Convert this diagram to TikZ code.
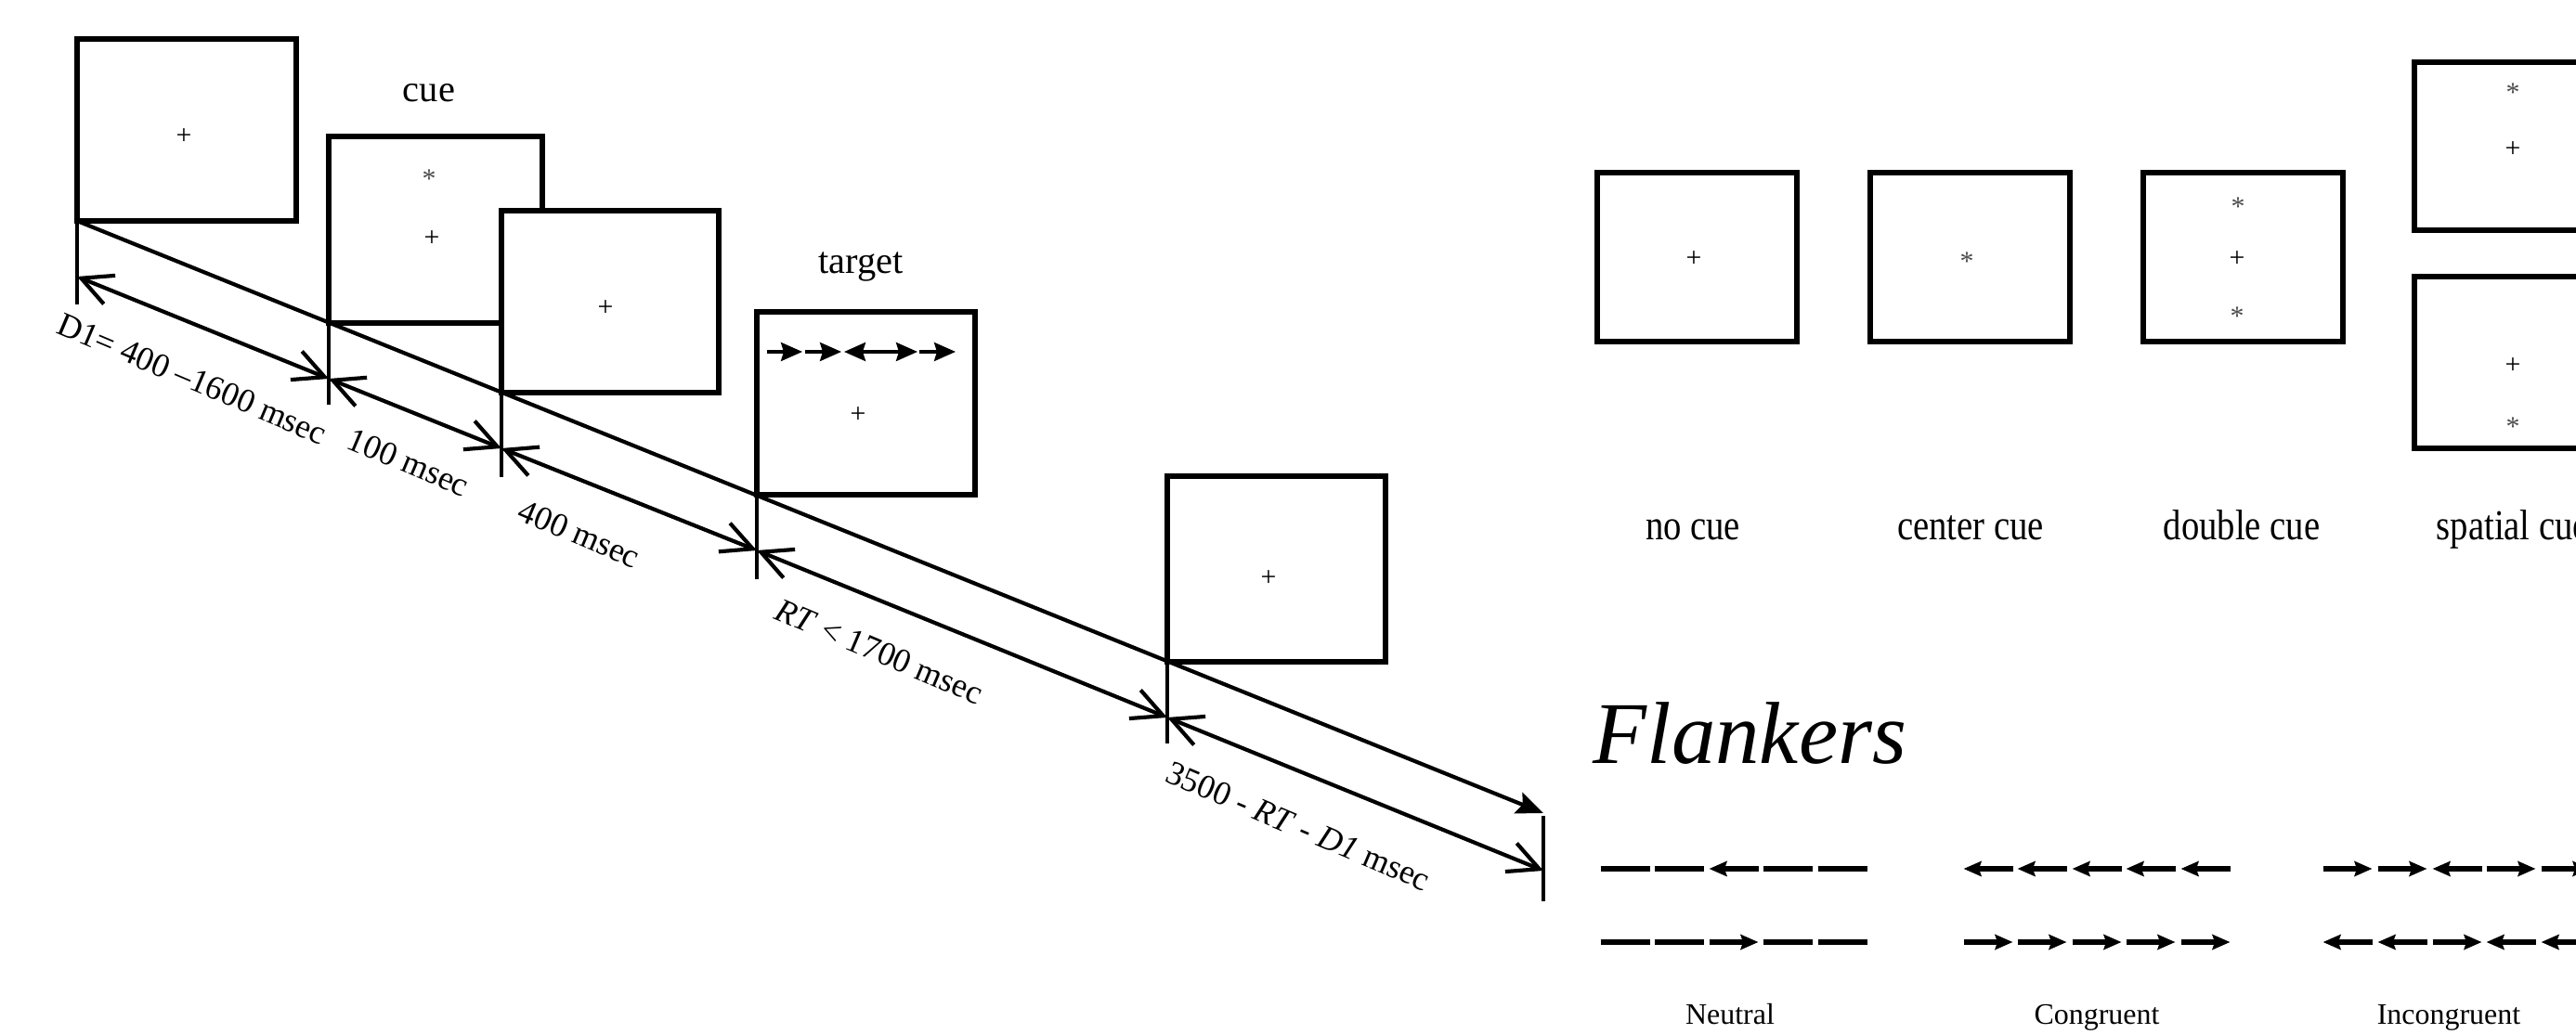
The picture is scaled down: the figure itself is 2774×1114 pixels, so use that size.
\documentclass[tikz,border=0pt]{standalone}
\usepackage{fontspec}
\setmainfont{Liberation Serif}
\newfontfamily\condserif[FakeStretch=0.84]{Liberation Serif}
\usetikzlibrary{arrows.meta,calc}
\newcommand\flkD[2]{\draw[fline] ({#1-26.5},#2) -- ({#1+26.5},#2);}
\newcommand\flkL[2]{\draw[fline,{Stealth[length=1.9mm,width=1.6mm,inset=0.25mm]}-] ({#1-26.5},#2) -- ({#1+26.5},#2);}
\newcommand\flkR[2]{\draw[fline,-{Stealth[length=1.9mm,width=1.6mm,inset=0.25mm]}] ({#1-26.5},#2) -- ({#1+26.5},#2);}
\begin{document}
\begin{tikzpicture}[x=0.1mm,y=-0.1mm,
  scr/.style={draw, line width=0.55mm, fill=white, inner sep=0pt, outer sep=0pt, anchor=north west},
  rscr/.style={scr, minimum width=21.5mm, minimum height=18.2mm},
  sym/.style={inner sep=0pt, font=\fontsize{8.5}{10}\selectfont},
  star/.style={sym, text=black!70, yshift=-1.6pt},
  ttl/.style={inner sep=0pt, anchor=base, font=\fontsize{11.5}{13}\selectfont},
  rttl/.style={inner sep=0pt, anchor=base, font=\condserif\fontsize{13.1}{15}\selectfont},
  fttl/.style={inner sep=0pt, anchor=base, font=\fontsize{9.1}{11}\selectfont},
  dur/.style={inner sep=0pt, rotate=-23, font=\fontsize{10.3}{12}\selectfont},
  tline/.style={line width=0.42mm},
  tick/.style={line width=0.45mm},
  dimarrow/.style={tline, {Straight Barb[length=3.3mm,width=3.3mm]}-{Straight Barb[length=3.3mm,width=3.3mm]}},
  fline/.style={line width=0.55mm},
  tgt/.style={line width=0.33mm},
  tgtR/.style={tgt,-{Stealth[length=2.3mm,width=2.0mm,inset=0.3mm]}},
  tgtL/.style={tgt,{Stealth[length=2.3mm,width=2.0mm,inset=0.3mm]}-},
]
\useasboundingbox (0,0) rectangle (2774,1114);
\clip (0,0) rectangle (2774,1114);

% ---------- left: trial timeline ----------
\node[scr, minimum width=23.6mm, minimum height=19.6mm] (b1) at (83,42) {};
\node[scr, minimum width=23.0mm, minimum height=20.1mm] (b2) at (354,147) {};
\node[scr, minimum width=23.4mm, minimum height=19.6mm] (b3) at (540,227) {};
\node[scr, minimum width=23.5mm, minimum height=19.7mm] (b4) at (815,336) {};
\node[scr, minimum width=23.5mm, minimum height=20.0mm] (b5) at (1257,513) {};

\node[sym] (p1) at (198,147) {+};
\node[star] (s2) at (462,187) {*};
\node[sym] (p2) at (465,257) {+};
\node[sym] (p3) at (652,332) {+};
\node[sym] (p4) at (924,447) {+};
\node[sym] (p5) at (1366,623) {+};

\node[ttl] (cue) at (462,110) {cue};
\node[ttl] (target) at (927,295) {target};

% target flanker row
\draw[tgtR] (826,379) -- (864,379);
\draw[tgtR] (867,379) -- (906,379);
\draw[tgtL] (909,379) -- (948,379);
\draw[tgtR] (948,379) -- (988,379);
\draw[tgtR] (990,379) -- (1029,379);

% timeline
\coordinate (uend) at (1662,876);
\draw[tline,-{Stealth[length=2.9mm,width=2.4mm,inset=0.5mm]}] (b1.south west) -- (uend);

\coordinate (t1) at ($(b1.south west)+(0,60)$);
\coordinate (t2) at ($(b2.south west)+(0,60)$);
\coordinate (t3) at ($(b3.south west)+(0,60)$);
\coordinate (t4) at ($(b4.south west)+(0,60)$);
\coordinate (t5) at ($(b5.south west)+(0,60)$);
\coordinate (t6) at ($(uend)+(0,62)$);

\draw[tick] (b1.south west) -- ($(t1)+(0,30)$);
\draw[tick] (b2.south west) -- ($(t2)+(0,28)$);
\draw[tick] (b3.south west) -- ($(t3)+(0,31)$);
\draw[tick] (b4.south west) -- ($(t4)+(0,31)$);
\draw[tick] (b5.south west) -- ($(t5)+(0,28)$);
\draw[tick] ($(uend)+(0,3)$) -- ($(t6)+(0,33)$);

\draw[dimarrow] (t1) -- (t2);
\draw[dimarrow] (t2) -- (t3);
\draw[dimarrow] (t3) -- (t4);
\draw[dimarrow] (t4) -- (t5);
\draw[dimarrow] (t5) -- (t6);

\node[dur] (l1) at (207,408) {D1= 400 –1600 msec};
\node[dur] (l2) at (440,498) {100 msec};
\node[dur] (l3) at (624,575) {400 msec};
\node[dur] (l4) at (947,702) {\textit{RT} < 1700 msec};
\node[dur] (l5) at (1398,890) {3500 - \textit{RT} - \textit{D1} msec};

% ---------- right: cue types ----------
\node[rscr] (nc) at (1720,186) {};
\node[rscr] (cc) at (2014,186) {};
\node[rscr] (dc) at (2308,186) {};
\node[rscr, minimum height=18.1mm] (st) at (2600,67) {};
\node[rscr, minimum height=18.5mm] (sb) at (2600,298) {};

\node[sym] (ncp) at (1824,279) {+};
\node[star] (ccs) at (2118,276) {*};
\node[star] (dcs1) at (2410,217) {*};
\node[sym] (dcp) at (2409,279) {+};
\node[star] (dcs2) at (2409,335) {*};
\node[star] (sts) at (2706,94) {*};
\node[sym] (stp) at (2706,161) {+};
\node[sym] (sbp) at (2706,394) {+};
\node[star] (sbs) at (2706,454) {*};

\node[rttl] (lnc) at (1823,582) {no cue};
\node[rttl] (lcc) at (2122,582) {center cue};
\node[rttl] (ldc) at (2414,582) {double cue};
\node[rttl, anchor=base west] (lsc) at (2623,582) {spatial cue};

% ---------- flankers ----------
\node[inner sep=0pt, anchor=base west, font=\fontsize{27}{30}\selectfont\itshape] (flk) at (1715,823) {Flankers};

\flkD{1750}{936}\flkD{1808}{936}\flkL{1867}{936}\flkD{1925}{936}\flkD{1984}{936}
\flkD{1750}{1015}\flkD{1808}{1015}\flkR{1867}{1015}\flkD{1925}{1015}\flkD{1984}{1015}

\flkL{2141}{936}\flkL{2199}{936}\flkL{2258}{936}\flkL{2316}{936}\flkL{2375}{936}
\flkR{2141}{1015}\flkR{2199}{1015}\flkR{2258}{1015}\flkR{2316}{1015}\flkR{2375}{1015}

\flkR{2528}{936}\flkR{2587}{936}\flkL{2646}{936}\flkR{2704}{936}\flkR{2763}{936}
\flkL{2528}{1015}\flkL{2587}{1015}\flkR{2646}{1015}\flkL{2704}{1015}\flkL{2763}{1015}

\node[fttl] (neu) at (1863,1103) {Neutral};
\node[fttl] (con) at (2258,1103) {Congruent};
\node[fttl] (inc) at (2637,1103) {Incongruent};
\end{tikzpicture}
\end{document}
